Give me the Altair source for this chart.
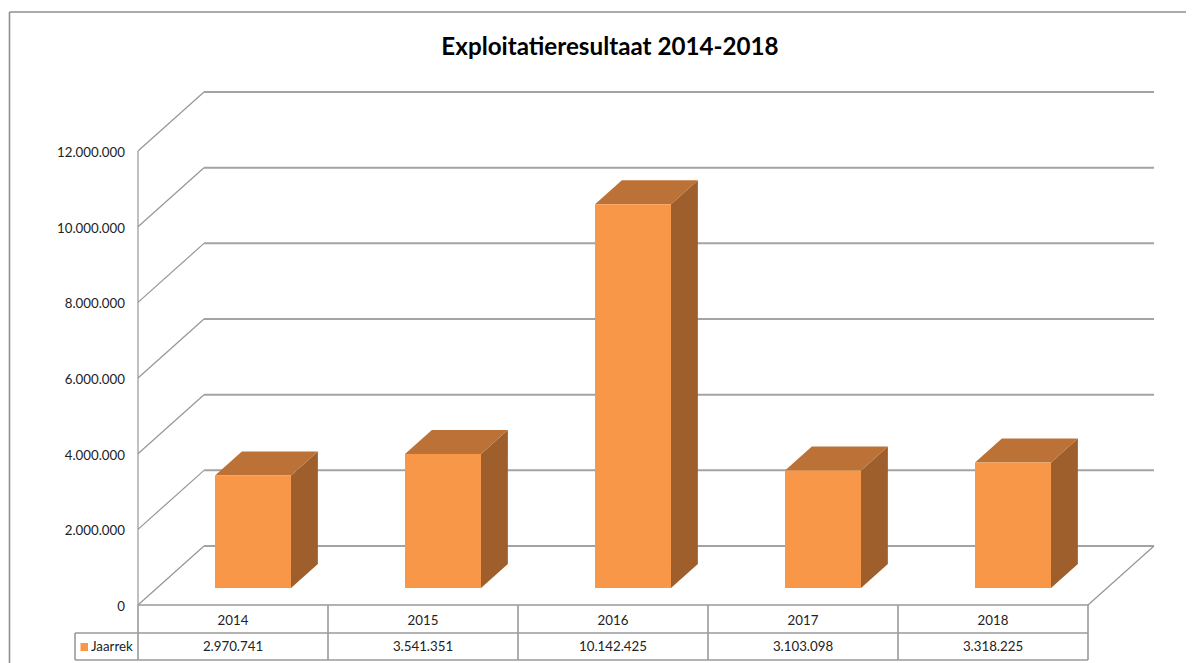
import altair as alt
import pandas as pd

title_text = "Exploitatieresultaat 2014-2018"
years = ["2014", "2015", "2016", "2017", "2018"]
values = [2970741, 3541351, 10142425, 3103098, 3318225]
value_labels = ["2.970.741", "3.541.351", "10.142.425", "3.103.098", "3.318.225"]
ticks = [0, 2000000, 4000000, 6000000, 8000000, 10000000, 12000000]
tick_labels = ["0", "2.000.000", "4.000.000", "6.000.000", "8.000.000", "10.000.000", "12.000.000"]
series_name = "Jaarrek"

W, H = 1180, 655
COL_PX = 190.0
PX_PER_M = 37.83
X0_PX, Y0_PX = 138.0, 605.0   # page position of the axis origin
PAGE = 8.0

def ux(px):
    return (px - X0_PX) / COL_PX

def uy(py):
    return (Y0_PX - py) / PX_PER_M * 1e6

DX = 66 / COL_PX            # full depth of the chart box, in columns
DY = 59 / PX_PER_M * 1e6    # full depth of the chart box, in value units
D0, D1 = 17 / 59, 41 / 59   # front and back of the bars along the depth
BAR_GAP = 0.30              # space on either side of a bar, in columns
BAR_SHIFT = 1 / COL_PX
N = len(years)

xs = alt.Scale(domain=[ux(PAGE), ux(PAGE + W)], range=[0, W], nice=False, zero=False)
ys = alt.Scale(domain=[uy(PAGE + H), uy(PAGE)], range=[H, 0], nice=False, zero=False)
X = lambda f: alt.X(f, type="quantitative", scale=xs, axis=None)
Y = lambda f: alt.Y(f, type="quantitative", scale=ys, axis=None)
X2 = lambda f: alt.X2(f)
Y2 = lambda f: alt.Y2(f)


def rules(rows, color, width):
    df = pd.DataFrame(rows, columns=["x", "x2", "y", "y2"])
    return alt.Chart(df).mark_rule(color=color, strokeWidth=width).encode(
        x=X("x"), x2=X2("x2"), y=Y("y"), y2=Y2("y2"))


FRAME = "#8f8f8f"
GRID = "#a3a3a3"
SIDE = "#969696"
TABLE = "#9a9a9a"

t_bottom = uy(660)
t_mid = uy(633)
t_left = ux(75)
frame_x, frame_y = ux(9.5), uy(12)

frame = rules([[frame_x, ux(PAGE + W - 2), frame_y, frame_y],
               [frame_x, frame_x, frame_y, uy(PAGE + H)]], FRAME, 1.6)
back = rules([[DX, N + DX, t + DY, t + DY] for t in ticks], GRID, 2)
side = rules([[0, DX, t, t + DY] for t in ticks]
             + [[0, 0, 0, ticks[-1]], [N, N + DX, 0, DY]], SIDE, 1.2)
table = rules([[0, N, 0, 0], [t_left, N, t_mid, t_mid], [t_left, N, t_bottom, t_bottom],
               [t_left, t_left, t_mid, t_bottom]]
              + [[i, i, 0, t_bottom] for i in range(N + 1)], TABLE, 1.6)

front_rows, top_rows, side_rows = [], [], []
for i, v in enumerate(values):
    lx = i + BAR_GAP + D0 * DX + BAR_SHIFT
    rx = i + 1 - BAR_GAP + D0 * DX + BAR_SHIFT
    base = D0 * DY
    dx = (D1 - D0) * DX
    dy = (D1 - D0) * DY
    front_rows.append(dict(x=lx, x2=rx, y=base, y2=base + v))
    top_rows += [dict(b=i, y=base + v, x=lx, x2=rx),
                 dict(b=i, y=base + v + dy, x=lx + dx, x2=rx + dx)]
    side_rows += [dict(b=i, x=rx, y=base, y2=base + v),
                  dict(b=i, x=rx + dx, y=base + dy, y2=base + v + dy)]

front = alt.Chart(pd.DataFrame(front_rows)).mark_rect(color="#F99748").encode(
    x=X("x"), x2=X2("x2"), y=Y("y"), y2=Y2("y2"))
top = alt.Chart(pd.DataFrame(top_rows)).mark_area(color="#BC7236", orient="horizontal").encode(
    y=Y("y"), x=X("x"), x2=X2("x2"), detail="b:N")
right = alt.Chart(pd.DataFrame(side_rows)).mark_area(color="#9E5F2C", orient="vertical").encode(
    x=X("x"), y=Y("y"), y2=Y2("y2"), detail="b:N")

FONT = "Lato"
TXT = "#222222"
SIZE = 13.3


def text(rows, align, size=SIZE, weight="normal", font=FONT, color=TXT):
    df = pd.DataFrame(rows, columns=["x", "y", "t"])
    return alt.Chart(df).mark_text(align=align, baseline="middle", fontSize=size,
                                   fontWeight=weight, font=font, color=color).encode(
        x=X("x"), y=Y("y"), text="t:N")


LABEL_DROP = uy(607) - uy(605)
tick_text = text([[ux(125), t + LABEL_DROP, s] for t, s in zip(ticks, tick_labels)], "right")
year_text = text([[i + 0.5, uy(621), s] for i, s in enumerate(years)], "center")
value_text = text([[i + 0.5, uy(647), s] for i, s in enumerate(value_labels)], "center")
series_text = text([[ux(91), uy(647), series_name]], "left")
title_mark = text([[ux(610), uy(48), title_text]], "center", size=24.2, weight="bold", color="#000000")
swatch = alt.Chart(pd.DataFrame([dict(x=ux(80.5), x2=ux(88), y=uy(643), y2=uy(651))])).mark_rect(
    color="#F99748").encode(x=X("x"), x2=X2("x2"), y=Y("y"), y2=Y2("y2"))

chart = alt.layer(frame, back, side, table, right, top, front, swatch,
                  tick_text, year_text, value_text, series_text, title_mark).properties(
    width=W, height=H, padding=0, background="white",
    view=alt.ViewConfig(stroke=None))

chart.save("out.html", embed_options={"renderer": "svg", "actions": False})
